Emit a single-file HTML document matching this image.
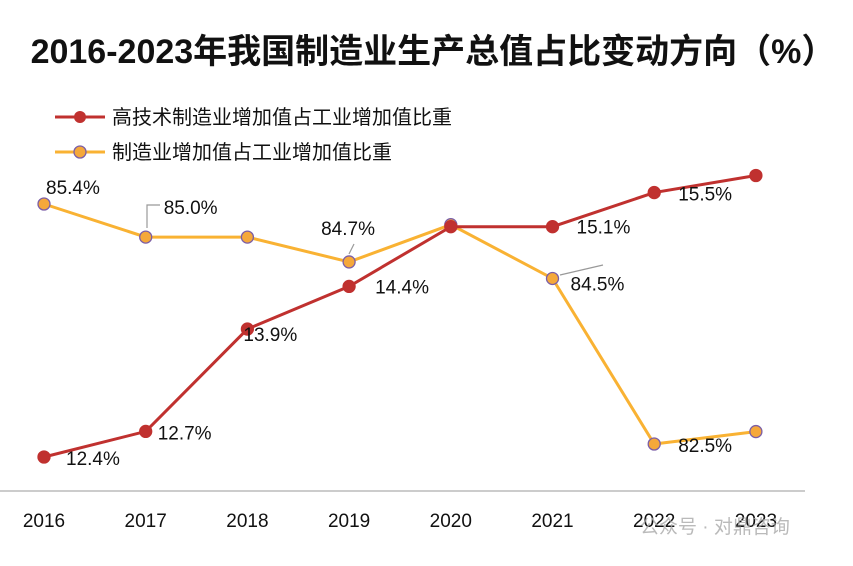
<!DOCTYPE html>
<html><head><meta charset="utf-8">
<style>
body{margin:0;background:#fff;width:853px;height:561px;overflow:hidden;font-family:"Liberation Sans","Noto Sans CJK SC",sans-serif;}
svg text{font-family:"Liberation Sans","Noto Sans CJK SC",sans-serif;}
</style></head>
<body>
<svg id="chart" width="853" height="561" viewBox="0 0 853 561" xmlns="http://www.w3.org/2000/svg">
<text x="433" y="63" text-anchor="middle" font-size="34" font-weight="bold" fill="#111">2016-2023年我国制造业生产总值占比变动方向（%）</text>
<g>
<g>
<line x1="55" y1="117" x2="105" y2="117" stroke="#C0312F" stroke-width="3"/>
<circle cx="80" cy="117" r="6" fill="#C0312F"/>
<text x="112" y="124" font-size="20" fill="#111">高技术制造业增加值占工业增加值比重</text>
</g>
<g>
<line x1="55" y1="152" x2="105" y2="152" stroke="#F9B233" stroke-width="3"/>
<circle cx="80" cy="152" r="6" fill="#F5A83A" stroke="#7B5EA7" stroke-width="1.3"/>
<text x="112" y="159" font-size="20" fill="#111">制造业增加值占工业增加值比重</text>
</g>
</g>
<line x1="0" y1="491" x2="805" y2="491" stroke="#bbb" stroke-width="1.5"/>
<g id="xticks"></g>
<g id="leaders">
<polyline points="147,228 147,205 160,205" fill="none" stroke="#999" stroke-width="1.2"/>
<line x1="349" y1="254" x2="354" y2="244" stroke="#999" stroke-width="1.2"/>
<line x1="560" y1="275" x2="603" y2="265" stroke="#999" stroke-width="1.2"/>
</g>
<g id="series"></g>
<text x="640" y="533" font-size="19" fill="#aaa" opacity="0.8">公众号 · 对鼎咨询</text>
</svg>
<script>
const years=["2016","2017","2018","2019","2020","2021","2022","2023"];
const hightech=[12.4,12.7,13.9,14.4,15.1,15.1,15.5,15.7];
const manuf=[85.4,85.0,85.0,84.7,85.15,84.5,82.5,82.65];
const hightechLabels=["12.4%","12.7%","13.9%","14.4%","","15.1%","15.5%",""];
const manufLabels=["85.4%","85.0%","","84.7%","","84.5%","82.5%",""];
const NS="http://www.w3.org/2000/svg";
function x(i){return 44+i*101.7;}
function yR(v){return 457-(v-12.4)*85.3;}
function yO(v){return 444-(v-82.5)*82.76;}
const redOff=[[22,8],[12,8],[-4,12],[26,7],[0,0],[24,7],[24,8],[0,0]];
const orOff=[[2,-10],[18,-23],[0,0],[-28,-27],[0,0],[18,12],[24,8],[0,0]];
function el(t,a,p){const e=document.createElementNS(NS,t);for(const k in a)e.setAttribute(k,a[k]);p.appendChild(e);return e;}
const xt=document.getElementById('xticks');
years.forEach((yv,i)=>{const t=el('text',{x:x(i),y:527,'text-anchor':'middle','font-size':19,fill:'#111'},xt);t.textContent=yv;

});
const s=document.getElementById('series');
function draw(vals,yf,color,fill,stroke,labels,off,name){
const g=el('g',{},s);


const ln=el('polyline',{points:vals.map((v,i)=>x(i)+','+yf(v)).join(' '),fill:'none',stroke:color,'stroke-width':3},g);


vals.forEach((v,i)=>{const c=el('circle',{cx:x(i),cy:yf(v),r:6,fill:fill,stroke:stroke,'stroke-width':1.3},g);


if(labels[i]){const t=el('text',{x:x(i)+off[i][0],y:yf(v)+off[i][1],'font-size':19,fill:'#111'},g);t.textContent=labels[i];

}});
}
draw(manuf,yO,'#F9B233','#F5A83A','#7B5EA7',manufLabels,orOff,'manufacturing');
draw(hightech,yR,'#C0312F','#C0312F','#C0312F',hightechLabels,redOff,'hightech');
</script>
</body></html>
